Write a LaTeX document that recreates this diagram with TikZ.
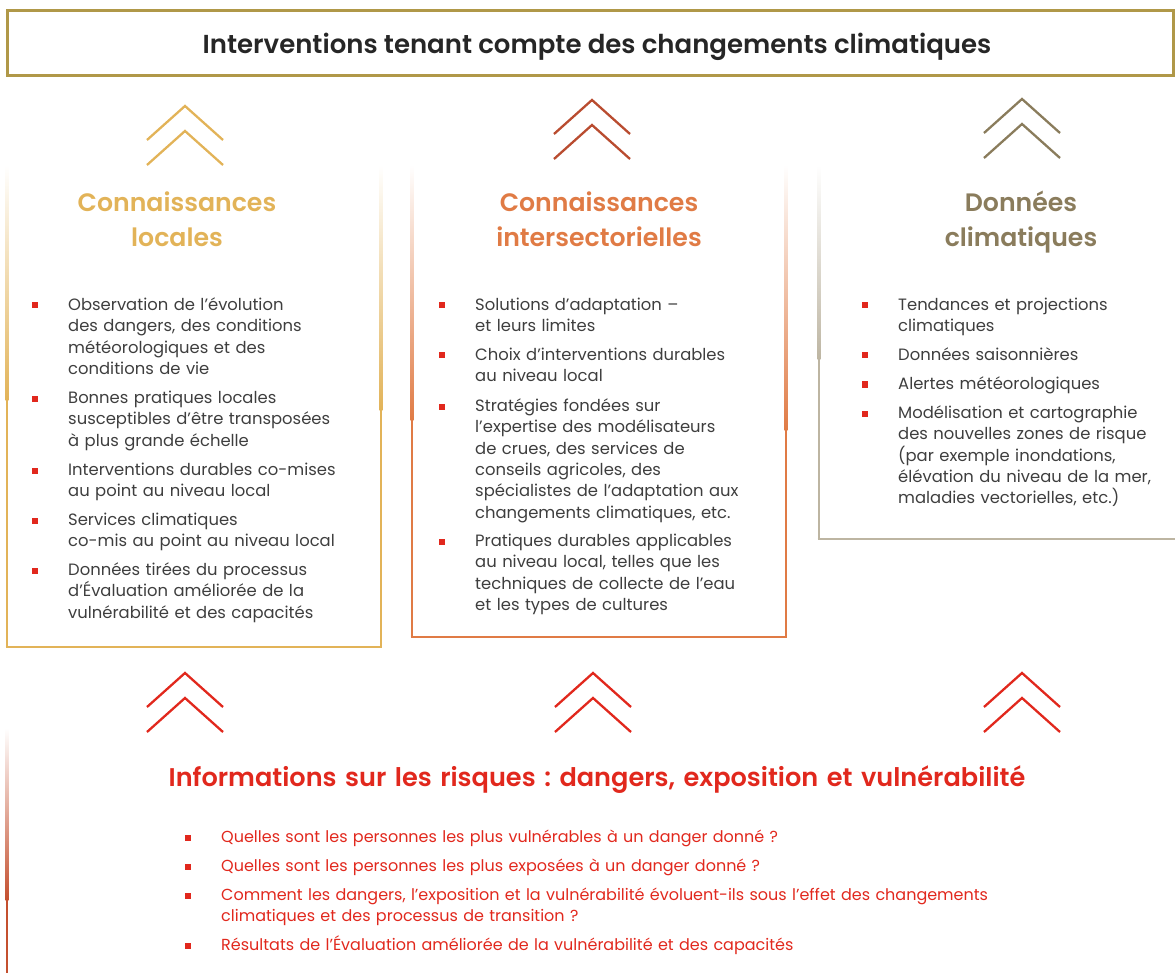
\documentclass[tikz,border=0pt]{standalone}
\usepackage{fontspec}
\setmainfont{Poppins}[BoldFont={Poppins SemiBold}]
\usepackage{tikz}
\usetikzlibrary{positioning}
\frenchspacing

\definecolor{cadre}{HTML}{B09848}
\definecolor{orloc}{HTML}{E2B358}
\definecolor{orinter}{HTML}{E07B45}
\definecolor{rouille}{HTML}{B94C30}
\definecolor{taupe}{HTML}{8A7C5C}
\definecolor{taupeclair}{HTML}{BDB5A2}
\definecolor{rouge}{HTML}{E1281D}
\definecolor{brique}{HTML}{C4502F}
\definecolor{texte}{HTML}{3E3E3E}

\tikzset{
  chevron/.pic={
    \draw (-38,34) -- (0,0) -- (38,34);
    \draw (-38,59) -- (0,25) -- (38,59);
  },
  chev/.style={line width=2.3pt},
  titre/.style={anchor=base, inner sep=0pt, text=black!85, font=\fontsize{26}{30}\selectfont\bfseries},
  tete/.style={anchor=base, align=center, text width=420pt, inner sep=0pt, font=\fontsize{25.2}{35}\selectfont\bfseries},
  item/.style={anchor=base west, align=left, text width=340pt, inner sep=0pt, text=texte, font=\fontsize{16.4}{21.3}\selectfont},
  risq/.style={item, text width=900pt, text=rouge, font=\fontsize{16}{21.3}\selectfont},
  bul/.style={fill=rouge, minimum size=6pt, inner sep=0pt},
}

% trait vertical degrade : x, haut, debut du plein, bas, couleur
\newcommand{\traitfondu}[5]{%
  \shade[top color=white, bottom color=#5] (#1-1.3,#2) rectangle (#1+1.3,#3);
  \fill[#5] (#1-1.3,#3) rectangle (#1+1.3,#4);
}

\begin{document}
\begin{tikzpicture}[x=1pt, y=-1pt]
  \useasboundingbox (0,0) rectangle (1175,973);

  % Titre
  \draw[cadre, line width=3pt] (7.5,10.5) rectangle (1173.5,76);
  \node[titre] (titre) at (597,54) {Interventions tenant compte des changements climatiques};

  % Chevrons du haut
  \pic[chev, orloc] (chloc) at (185,106) {chevron};
  \pic[chev, rouille] (chinter) at (592,100) {chevron};
  \pic[chev, taupe] (chclim) at (1022,99) {chevron};

  % Chevrons du bas
  \foreach \x/\n in {185/a, 593/b, 1022/c} {
    \pic[chev, rouge] (chbas\n) at (\x,673) {chevron};
  }

  % Cadres
  \traitfondu{7}{165}{400}{648}{orloc}
  \traitfondu{381}{165}{410}{648}{orloc}
  \draw[orloc, line width=2.6pt] (5.7,647) -- (382.3,647);
  \traitfondu{412}{165}{420}{638}{orinter}
  \traitfondu{786}{165}{430}{638}{orinter}
  \draw[orinter, line width=2.6pt] (410.7,637) -- (787.3,637);
  \traitfondu{819}{165}{360}{540}{taupeclair}
  \draw[taupeclair, line width=2.6pt] (817.7,539) -- (1175,539);
  \traitfondu{7}{728}{900}{973}{brique}

  % Connaissances locales
  \node[tete, text=orloc] (hloc) at (177,212) {Connaissances\\locales};
  \node[item] (loc1) at (68,310.5) {Observation de l’évolution\\des dangers, des conditions\\météorologiques et des\\conditions de vie};
  \node[item] (loc2) at (68,403.5) {Bonnes pratiques locales\\susceptibles d’être transposées\\à plus grande échelle};
  \node[item] (loc3) at (68,475.5) {Interventions durables co-mises\\au point au niveau local};
  \node[item] (loc4) at (68,525.5) {Services climatiques\\co-mis au point au niveau local};
  \node[item] (loc5) at (68,575.5) {Données tirées du processus\\d’Évaluation améliorée de la\\vulnérabilité et des capacités};

  % Connaissances intersectorielles
  \node[tete, text=orinter] (hinter) at (599,212) {Connaissances\\intersectorielles};
  \node[item] (int1) at (475,310.5) {Solutions d’adaptation –\\et leurs limites};
  \node[item] (int2) at (475,360.5) {Choix d’interventions durables\\au niveau local};
  \node[item] (int3) at (475,411.5) {Stratégies fondées sur\\l’expertise des modélisateurs\\de crues, des services de\\conseils agricoles, des\\spécialistes de l’adaptation aux\\changements climatiques, etc.};
  \node[item] (int4) at (475,546.5) {Pratiques durables applicables\\au niveau local, telles que les\\techniques de collecte de l’eau\\et les types de cultures};

  % Donnees climatiques
  \node[tete, text=taupe] (hclim) at (1021,212) {Données\\climatiques};
  \node[item] (cli1) at (898,310.5) {Tendances et projections\\climatiques};
  \node[item] (cli2) at (898,360.5) {Données saisonnières};
  \node[item] (cli3) at (898,389.5) {Alertes météorologiques};
  \node[item] (cli4) at (898,418.5) {Modélisation et cartographie\\des nouvelles zones de risque\\(par exemple inondations,\\élévation du niveau de la mer,\\maladies vectorielles, etc.)};

  % Informations sur les risques
  \node[tete, text width=1100pt, text=rouge, font=\fontsize{25.6}{35}\selectfont\bfseries] (hrisq) at (597,786) {Informations sur les risques : dangers, exposition et vulnérabilité};
  \node[risq] (ris1) at (221,842.5) {Quelles sont les personnes les plus vulnérables à un danger donné ?};
  \node[risq] (ris2) at (221,871.5) {Quelles sont les personnes les plus exposées à un danger donné ?};
  \node[risq] (ris3) at (221,900.5) {Comment les dangers, l’exposition et la vulnérabilité évoluent-ils sous l’effet des changements\\climatiques et des processus de transition ?};
  \node[risq] (ris4) at (221,950.5) {Résultats de l’Évaluation améliorée de la vulnérabilité et des capacités};

  % Puces
  \foreach \n in {loc1,loc2,loc3,loc4,loc5,int1,int2,int3,int4,cli1,cli2,cli3,cli4,ris1,ris2,ris3,ris4} {
    \node[bul, left=30pt of \n.base west, yshift=5pt] (b-\n) {};
  }
\end{tikzpicture}
\end{document}
